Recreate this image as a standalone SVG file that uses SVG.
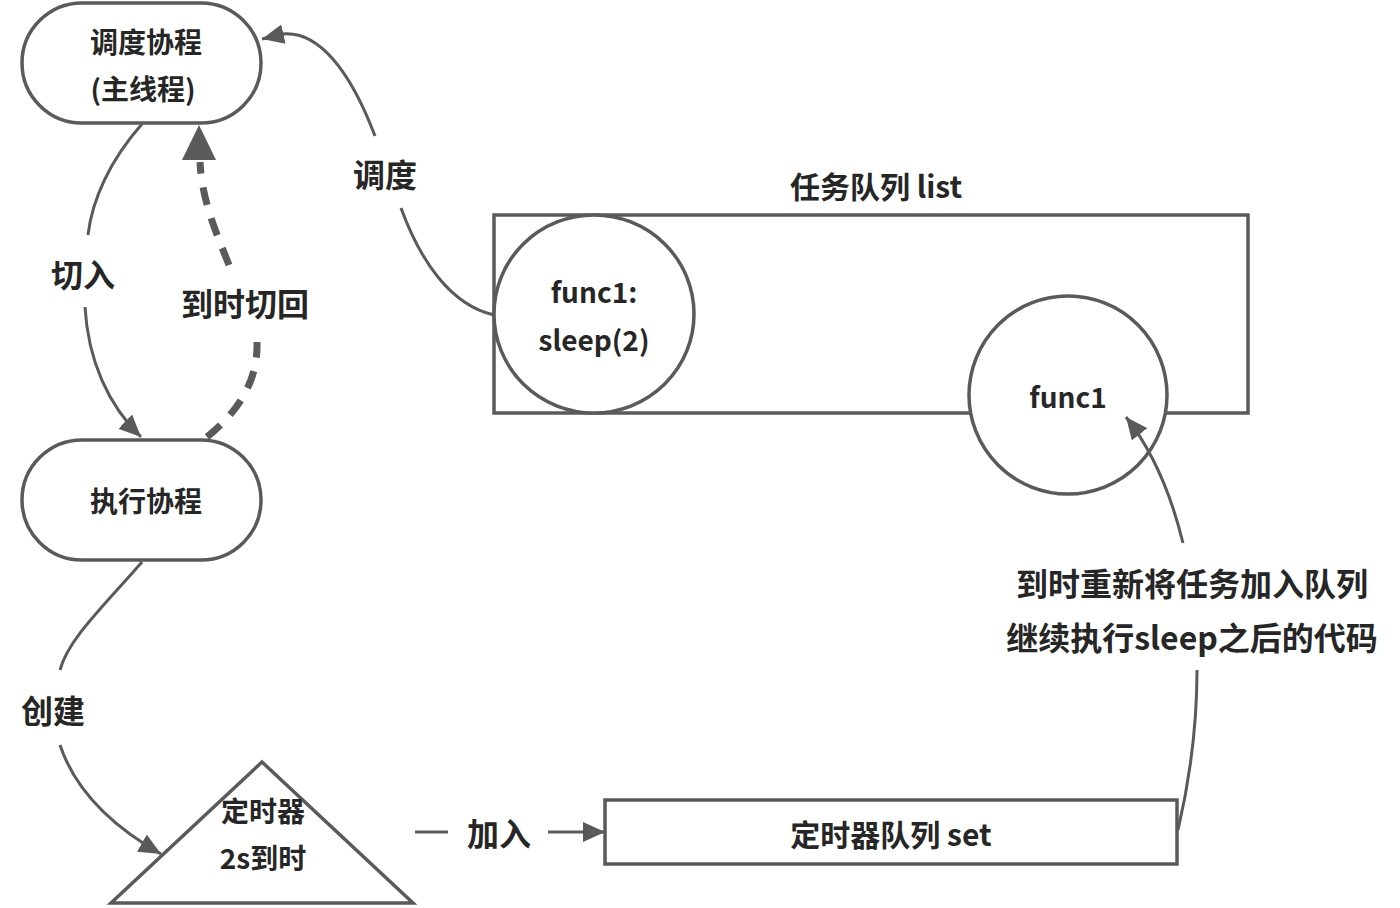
<svg xmlns="http://www.w3.org/2000/svg" width="1400" height="908" viewBox="0 0 1400 908">
<defs>
<style>
.shape{fill:#fff;stroke:#5a5a5a;stroke-width:3.5}
.conn{fill:none;stroke:#5a5a5a;stroke-width:3}
.dash{fill:none;stroke:#5a5a5a;stroke-width:7;stroke-dasharray:18 14}
.t{font-family:"Noto Sans CJK SC","Noto Sans",sans-serif;font-weight:bold;fill:#262626;text-anchor:middle;dominant-baseline:central}
.n{font-size:28px}
.h{font-size:30px}
.l{font-size:32px}
</style>
<marker id="ah" viewBox="0 0 20 18" refX="20" refY="9" markerWidth="22" markerHeight="20" markerUnits="userSpaceOnUse" orient="auto">
<path d="M0,0 L20,9 L0,18 Z" fill="#5a5a5a"/>
</marker>
</defs>
<rect width="1400" height="908" fill="#fff"/>

<g id="sched">
<rect class="shape" x="22" y="3" width="239" height="120" rx="60" ry="60"/>
<text class="t n" x="146" y="41">调度协程</text>
<text class="t n" x="143" y="88">(主线程)</text>
</g>

<g id="exec">
<rect class="shape" x="22" y="440" width="239" height="120" rx="60" ry="60"/>
<text class="t n" x="146" y="500">执行协程</text>
</g>

<g id="timer">
<path class="shape" d="M262,762 L413,903 L111,903 Z"/>
<text class="t n" x="263" y="810">定时器</text>
<text class="t n" x="263" y="857">2s到时</text>
</g>

<g id="timerqueue">
<rect class="shape" x="605" y="800" width="572" height="64"/>
<text class="t h" x="891" y="833">定时器队列 set</text>
</g>

<g id="taskqueue">
<text class="t h" x="876" y="185">任务队列 list</text>
<rect class="shape" x="494" y="215" width="754" height="198"/>
</g>

<g id="func1sleep">
<ellipse class="shape" cx="594" cy="314" rx="100" ry="99"/>
<text class="t n" x="594" y="291">func1:</text>
<text class="t n" x="594" y="339">sleep(2)</text>
</g>

<g id="func1">
<ellipse class="shape" cx="1068" cy="395" rx="99" ry="99"/>
<text class="t n" x="1068" y="396">func1</text>
</g>

<g id="connectors">
<path class="conn" d="M494,315 C450,305 420,260 401,208"/>
<path class="conn" d="M375,136 C350,70 318,30 282,34" />
<path class="conn" d="M284,34 L262,39" marker-end="url(#ah)"/>
<path class="conn" d="M142,124 C110,160 92,200 88,235"/>
<path class="conn" d="M85,307 C88,360 108,405 141,437" marker-end="url(#ah)"/>
<path class="dash" d="M207,437 C240,410 258,380 257,342"/>
<path class="dash" d="M229,265 C215,230 202,200 200,162"/>
<path d="M199,125 L216,160 L182,160 Z" fill="#5a5a5a"/>
<path class="conn" d="M142,562 C100,610 68,640 60,670"/>
<path class="conn" d="M60,745 C75,790 110,825 161,854" marker-end="url(#ah)"/>
<path class="conn" d="M415,832 L448,832"/>
<path class="conn" d="M548,832 L605,832" marker-end="url(#ah)"/>
<path class="conn" d="M1178,830 C1192,770 1197,720 1197,670"/>
<path class="conn" d="M1183,543 C1170,490 1152,450 1126,417" marker-end="url(#ah)"/>
</g>

<g id="labels">
<text class="t l" x="385" y="173">调度</text>
<text class="t l" x="83" y="273">切入</text>
<text class="t l" x="245" y="302">到时切回</text>
<text class="t l" x="53" y="709">创建</text>
<text class="t l" x="499" y="832">加入</text>
<text class="t l" x="1192" y="582">到时重新将任务加入队列</text>
<text class="t l" x="1192" y="636">继续执行sleep之后的代码</text>
</g>
</svg>
